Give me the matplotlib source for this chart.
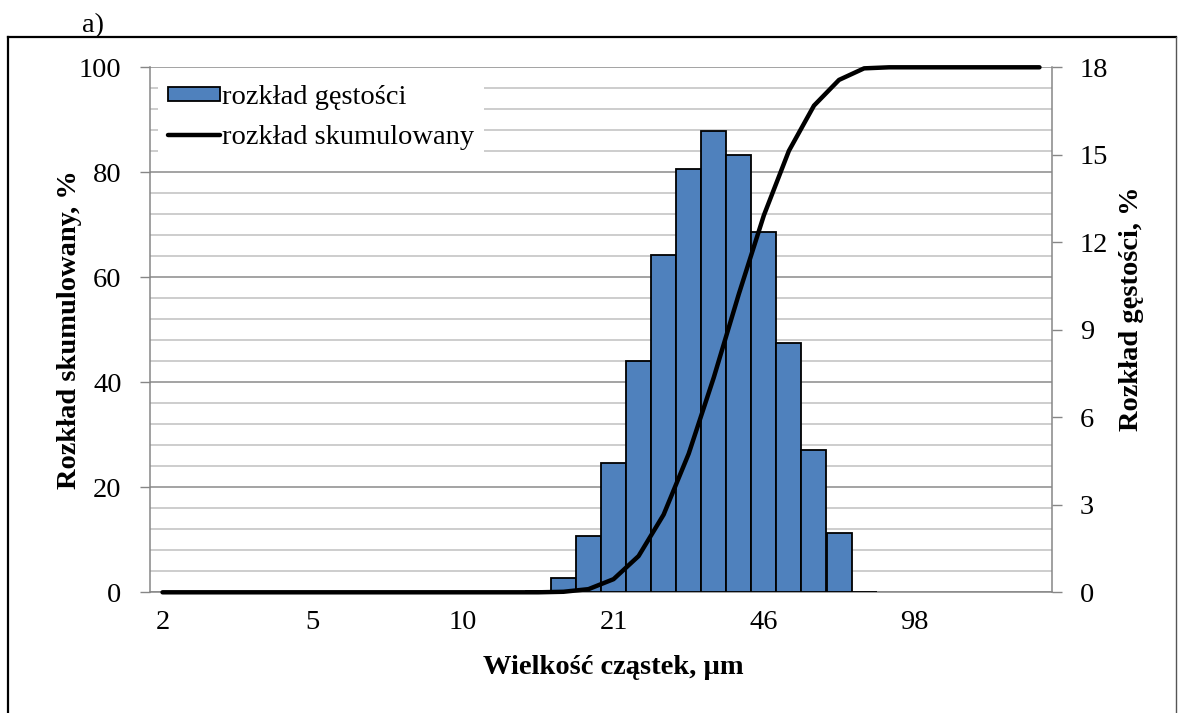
import numpy as np
import matplotlib
matplotlib.use("Agg")
import matplotlib.pyplot as plt
from matplotlib.ticker import MultipleLocator
from matplotlib.lines import Line2D

plt.rcParams['font.family'] = ['Liberation Serif', 'DejaVu Serif']

# size classes (only every 6th one carries a label)
tick_pos = [0, 6, 12, 18, 24, 30]
tick_labels = ['2', '5', '10', '21', '46', '98']
n_cat = 36

# density distribution, % (right axis)
nan = np.nan
density = [nan] * 15 + [0.06, 0.49, 1.92, 4.44, 7.92, 11.58, 14.53, 15.83,
                        15.01, 12.34, 8.56, 4.87, 2.03, 0.0] + [nan] * 7
# cumulative distribution, % (left axis)
cumulative = [0.0] * 16 + [0.1, 0.6, 2.5, 6.9, 14.8, 26.4, 40.9, 56.8,
                           71.8, 84.1, 92.7, 97.6, 99.8] + [100.0] * 7

W, H = 1178, 713
fig = plt.figure(figsize=(W / 100, H / 100), dpi=100)
L, R, T, B = 150, 1052, 67.3, 592.3
ax1 = fig.add_axes([L / W, 1 - B / H, (R - L) / W, (B - T) / H])

fs = 20.5
axis_grey = '#868686'
x = np.arange(n_cat)

# left axis: cumulative scale and gridlines
ax1.set_xlim(-0.5, n_cat - 0.5)
ax1.set_ylim(0, 100)
ax1.yaxis.set_major_locator(MultipleLocator(20))
ax1.yaxis.set_minor_locator(MultipleLocator(4))
ax1.grid(True, which='major', axis='y', color='#8a8a8a', lw=1.1)
ax1.grid(True, which='minor', axis='y', color='#c0c0c0', lw=1.1)
ax1.set_axisbelow(True)
ax1.set_xticks(tick_pos)
ax1.set_xticklabels(tick_labels)
ax1.tick_params(axis='x', length=0, pad=13, labelsize=fs)
ax1.tick_params(axis='y', which='major', direction='out', length=7,
                width=1.0, color=axis_grey, pad=13.5, labelsize=fs)
ax1.tick_params(axis='y', which='minor', length=0)
for s in ['top', 'right']:
    ax1.spines[s].set_visible(False)
for s in ['left', 'bottom']:
    ax1.spines[s].set_color(axis_grey)
    ax1.spines[s].set_linewidth(1.1)
ax1.set_ylabel('Rozkład skumulowany, %', fontsize=fs, fontweight='bold')
ax1.yaxis.set_label_coords(-0.075, 0.5)
ax1.set_xlabel('Wielkość cząstek, µm', fontsize=fs, fontweight='bold')
ax1.xaxis.set_label_coords(0.514, -0.12)

# right axis: density bars
ax2 = ax1.twinx()
bars = ax2.bar(x, density, width=1.0, color='#4F81BD', edgecolor='black',
               linewidth=1.3, label='rozkład gęstości')
ax2.set_ylim(0, 18)
ax2.yaxis.set_major_locator(MultipleLocator(3))
ax2.tick_params(axis='y', direction='out', length=7, width=1.0,
                color=axis_grey, pad=13, labelsize=fs)
for s in ['top', 'left', 'bottom']:
    ax2.spines[s].set_visible(False)
ax2.spines['right'].set_color(axis_grey)
ax2.spines['right'].set_linewidth(1.1)
ax2.set_ylabel('Rozkład gęstości, %', fontsize=fs, fontweight='bold')
ax2.yaxis.set_label_coords(1.074, 0.54)

# cumulative line on top
ax3 = ax1.twinx()
ax3.set_ylim(0, 100)
ax3.set_axis_off()
line, = ax3.plot(x, cumulative, color='black', lw=3.2, clip_on=False,
                 solid_joinstyle='round', solid_capstyle='round',
                 label='rozkład skumulowany')

leg = ax3.legend(handles=[bars, line], loc='upper left',
                 bbox_to_anchor=(0.009, 0.985), borderaxespad=0,
                 fontsize=fs, frameon=True, fancybox=False, framealpha=1,
                 facecolor='white', edgecolor='none', borderpad=0.36,
                 handlelength=1.8, handleheight=0.4, handletextpad=0.07,
                 labelspacing=0.5)

# outer frame and panel letter
fig.add_artist(Line2D([8 / W, 1176 / W], [1 - 37 / H, 1 - 37 / H],
                      color='black', lw=1.6))
fig.add_artist(Line2D([8 / W, 8 / W], [1 - 37 / H, 0], color='black', lw=1.6))
fig.add_artist(Line2D([1176 / W, 1176 / W], [1 - 37 / H, 0],
                      color='#555555', lw=1.0))
fig.text(82 / W, 1 - 32 / H, 'a)', fontsize=fs, va='baseline')

fig.savefig('out.png', dpi=100)
